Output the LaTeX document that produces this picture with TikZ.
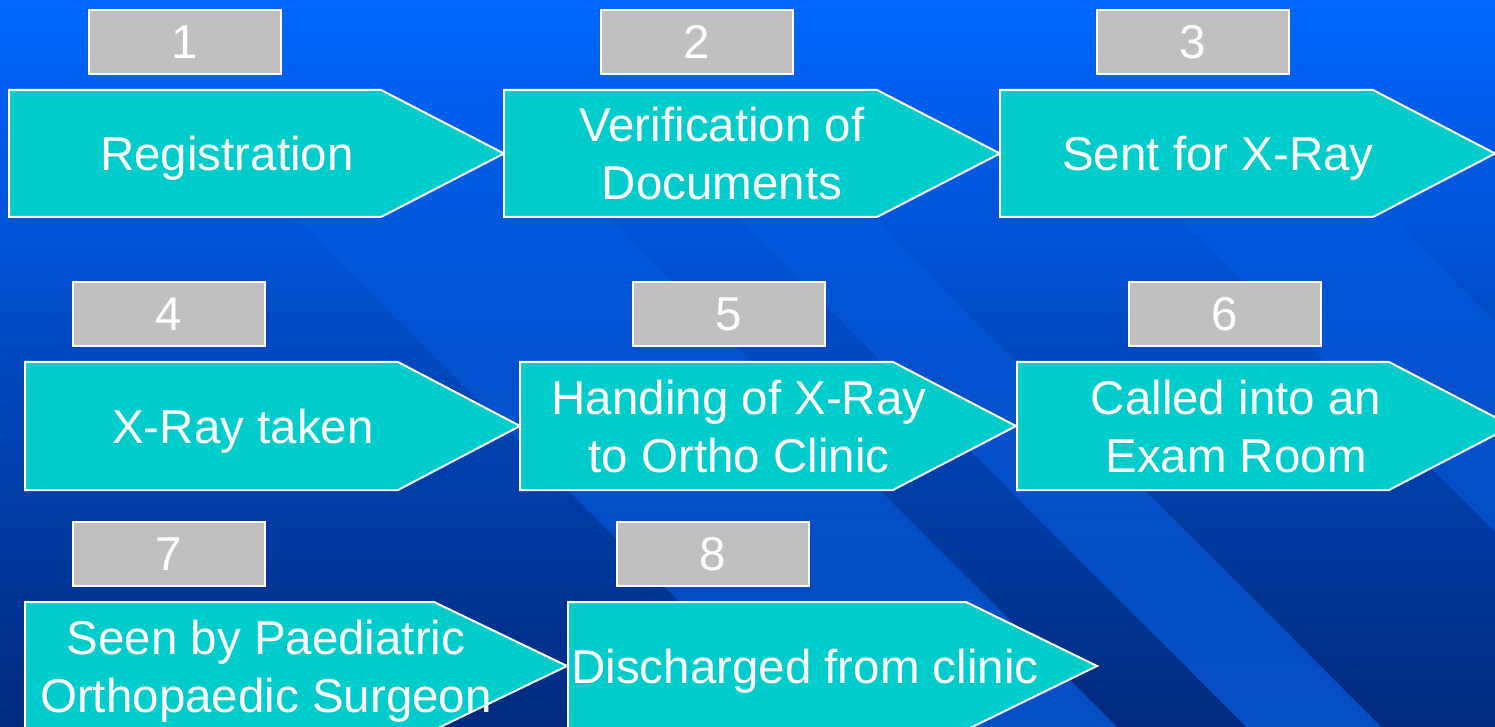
\documentclass[tikz,border=0pt]{standalone}
\usepackage{fontspec}
\setmainfont{Liberation Sans}
\usetikzlibrary{fadings}
\definecolor{bgtop}{RGB}{0,102,255}
\definecolor{bgmid}{RGB}{0,72,200}
\definecolor{bgbot}{RGB}{0,42,125}
\definecolor{bandcol}{RGB}{10,110,255}
\definecolor{stepfill}{RGB}{0,204,204}
\definecolor{silverbox}{RGB}{192,192,192}
\tikzfading[name=banddown, top color=transparent!100, middle color=transparent!45, bottom color=transparent!0]
\newcommand\mytopstrut{\rule{0pt}{0.96em}}
\newcommand\mybotstrut{\rule[-0.24em]{0pt}{0.24em}}
\newcommand\mydigit[1]{\raisebox{-1pt}{#1}}
\begin{document}
\begin{tikzpicture}[x=0.5pt,y=-0.5pt,
  stepshape/.style={fill=stepfill, draw=white, line width=1pt, line join=miter},
  steptext/.style={text=white, align=center, inner sep=0pt, outer sep=0pt, anchor=center,
    font=\fontsize{23.75}{29}\selectfont},
  numbox/.style={fill=silverbox, draw=white, line width=1pt, minimum width=96pt,
    minimum height=32pt, inner sep=0pt, text=white, font=\fontsize{23.75}{29}\selectfont}]
\useasboundingbox (0,0) rectangle (1495,727);
\clip (0,0) rectangle (1495,727);
% background
\shade[top color=bgtop, middle color=bgmid, bottom color=bgbot] (0,0) rectangle (1495,727);
\foreach \a/\b in {78/390, 520/655, 963/1173}{
  \fill[bandcol, opacity=0.55, path fading=banddown] (\a,0) -- (\b,0) -- (\b+727,727) -- (\a+727,727) -- cycle;
}
% row 1
\filldraw[stepshape] (9,90) -- (381,90) -- (504,153.5) -- (381,217) -- (9,217) -- cycle;
\filldraw[stepshape] (504,90) -- (877,90) -- (1000,153.5) -- (877,217) -- (504,217) -- cycle;
\filldraw[stepshape] (1000,90) -- (1373,90) -- (1495,153.5) -- (1373,217) -- (1000,217) -- cycle;
\node[steptext] (s1) at (227,153.5) {\mytopstrut Registration\mybotstrut};
\node[steptext] (s2) at (722,153.5) {\mytopstrut Verification of\\Documents\mybotstrut};
\node[steptext] (s3) at (1218,153.5) {\mytopstrut Sent for X-Ray\mybotstrut};
\node[numbox] (n1) at (185,42) {\mydigit{1}};
\node[numbox] (n2) at (697,42) {\mydigit{2}};
\node[numbox] (n3) at (1193,42) {\mydigit{3}};
% row 2
\filldraw[stepshape] (25,362) -- (398,362) -- (520,426) -- (398,490) -- (25,490) -- cycle;
\filldraw[stepshape] (520,362) -- (893,362) -- (1016,426) -- (893,490) -- (520,490) -- cycle;
\filldraw[stepshape] (1017,362) -- (1389,362) -- (1512,426) -- (1389,490) -- (1017,490) -- cycle;
\node[steptext] (s4) at (243,426) {\mytopstrut X-Ray taken\mybotstrut};
\node[steptext] (s5) at (739,426) {\mytopstrut Handing of X-Ray\\to Ortho Clinic\mybotstrut};
\node[steptext] (s6) at (1236,426) {\mytopstrut Called into an\\Exam Room\mybotstrut};
\node[numbox] (n4) at (169,314) {\mydigit{4}};
\node[numbox] (n5) at (729,314) {\mydigit{5}};
\node[numbox] (n6) at (1225,314) {\mydigit{6}};
% row 3
\filldraw[stepshape] (25,602) -- (434,602) -- (567,666) -- (434,730) -- (25,730) -- cycle;
\filldraw[stepshape] (568,602) -- (966,602) -- (1097,666) -- (966,730) -- (568,730) -- cycle;
\node[steptext] (s7) at (266,666) {\mytopstrut Seen by Paediatric\\Orthopaedic Surgeon\mybotstrut};
\node[steptext] (s8) at (805,666) {\mytopstrut Discharged from clinic\mybotstrut};
\node[numbox] (n7) at (169,554) {\mydigit{7}};
\node[numbox] (n8) at (713,554) {\mydigit{8}};
\end{tikzpicture}
\end{document}
